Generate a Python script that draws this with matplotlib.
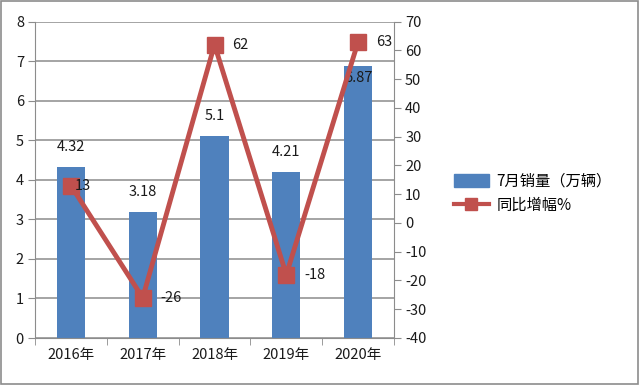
import matplotlib
matplotlib.use("Agg")
import matplotlib.pyplot as plt
from matplotlib.patches import Rectangle, Patch
from matplotlib.lines import Line2D
import numpy as np

plt.rcParams['font.family'] = ['Noto Sans CJK SC', 'DejaVu Sans']
plt.rcParams['axes.unicode_minus'] = False

categories = ["2016年", "2017年", "2018年", "2019年", "2020年"]
sales = [4.32, 3.18, 5.1, 4.21, 6.87]
growth = [13, -26, 62, -18, 63]
sales_labels = ["4.32", "3.18", "5.1", "4.21", "6.87"]
growth_labels = ["13", "-26", "62", "-18", "63"]
sales_name = "7月销量（万辆）"
growth_name = "同比增幅%"

blue = "#4F81BD"
red = "#C0504D"
grid_c = "#8C8C8C"
txt = "#1a1a1a"
fs = 10.5

fig = plt.figure(figsize=(6.4, 3.85), dpi=100)
ax = fig.add_axes([35/640, 1-338/385, (394-35)/640, (338-21.7)/385])
x = np.arange(len(categories))

ax.bar(x, sales, width=0.39, color=blue, zorder=2)
ax.set_xlim(-0.5, len(categories)-0.5)
ax.set_ylim(0, 8)
ax.set_yticks(range(0, 9))
ax.yaxis.grid(True, color=grid_c, linewidth=1.1, zorder=0)
ax.set_xticks(x)
ax.set_xticklabels(categories, fontsize=fs, color=txt)
ax.set_xticks(np.arange(-0.5, len(categories)), minor=True)
ax.tick_params(axis='x', which='major', length=0, pad=7)
ax.tick_params(axis='x', which='minor', length=5, color=grid_c, direction='out')
ax.tick_params(axis='y', length=5, color=grid_c, labelsize=fs, labelcolor=txt, pad=3)
for s in ['top', 'right']:
    ax.spines[s].set_visible(False)
ax.spines['left'].set_color(grid_c)
ax.spines['bottom'].set_color(grid_c)

for i, (v, lab) in enumerate(zip(sales, sales_labels)):
    off = 20 if i != 4 else -12
    ax.annotate(lab, (x[i], v), xytext=(0, off), textcoords='offset pixels',
                ha='center', va='center', fontsize=fs, color=txt, zorder=5)

ax2 = ax.twinx()
ax2.plot(x, growth, color=red, linewidth=3.5, marker='s', markersize=11,
         markerfacecolor=red, markeredgecolor=red, zorder=4)
ax2.set_ylim(-40, 70)
ax2.set_yticks(range(-40, 71, 10))
ax2.tick_params(axis='y', length=5, color=grid_c, labelsize=fs, labelcolor=txt, pad=3)
for s in ['top', 'left', 'bottom']:
    ax2.spines[s].set_visible(False)
ax2.spines['right'].set_color(grid_c)

for i, (v, lab) in enumerate(zip(growth, growth_labels)):
    dx = 4 if i == 0 else 18
    ax2.annotate(lab, (x[i], v), xytext=(dx, 0), textcoords='offset pixels',
                 ha='left', va='center', fontsize=fs, color=txt, zorder=6)

handles = [Patch(facecolor=blue, edgecolor=blue),
           Line2D([0], [0], color=red, linewidth=3, marker='s', markersize=9)]
fig.legend(handles, [sales_name, growth_name], loc='center left',
           bbox_to_anchor=(440/640, 1-193/385), frameon=False, fontsize=11,
           handlelength=2.3, handleheight=0.9, labelspacing=0.45, handletextpad=0.5)

fig.patches.append(Rectangle((0.002, 0.003), 0.995, 0.994, transform=fig.transFigure,
                             fill=False, edgecolor="#8C8C8C", linewidth=1.2))

fig.savefig("out.png", dpi=100)
